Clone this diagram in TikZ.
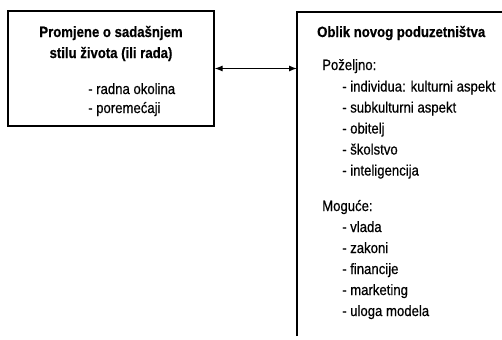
\documentclass[tikz,border=0pt]{standalone}
\usepackage{fontspec}
\setmainfont{Liberation Sans}[FakeStretch=0.88, UprightFeatures={FakeBold=0.5}, BoldFeatures={FakeBold=0.6}]
\usetikzlibrary{arrows.meta}
\begin{document}
\begin{tikzpicture}[x=1bp,y=-1bp,
  txt/.style={inner sep=0pt, font=\fontsize{15}{18}\selectfont},
  ttl/.style={inner sep=0pt, font=\fontsize{15}{18}\selectfont\bfseries},
  box/.style={draw, line width=1.2bp},
  conn/.style={line width=1.1bp, {Latex[length=8bp,width=6bp]}-{Latex[length=8bp,width=6bp]}}]
\useasboundingbox (0,0) rectangle (502,339);
% left box
\node[box, minimum width=206bp, minimum height=115bp, inner sep=0pt] (L) at (111,68.5) {};
\node[ttl, anchor=base] (l1) at (111,37) {Promjene o sadašnjem};
\node[ttl, anchor=base] (l2) at (111,58) {stilu života (ili rada)};
\node[txt, anchor=base west] (l3) at (88,94) {- radna okolina};
\node[txt, anchor=base west] (l4) at (88,113) {- poremećaji};
% right box (open)
\coordinate (RT) at (297,12);
\coordinate (RB) at (297,336);
\coordinate (RR) at (502,12);
\draw[box] (RB) -- (RT) -- (RR);
\draw[conn] (L.east) -- (RT |- L.east);
% right texts
\node[ttl, anchor=base west] (r0) at (317,37) {Oblik novog poduzetništva};
\node[txt, anchor=base west] (p0) at (322,70) {Poželjno:};
\node[txt, anchor=base west] (p1) at (342,91.5) {- individua: kulturni aspekt};
\node[txt, anchor=base west] (p2) at (342,112.5) {- subkulturni aspekt};
\node[txt, anchor=base west] (p3) at (342,133.5) {- obitelj};
\node[txt, anchor=base west] (p4) at (342,154.5) {- školstvo};
\node[txt, anchor=base west] (p5) at (342,175.5) {- inteligencija};
\node[txt, anchor=base west] (m0) at (322,211) {Moguće:};
\node[txt, anchor=base west] (m1) at (342,232) {- vlada};
\node[txt, anchor=base west] (m2) at (342,253) {- zakoni};
\node[txt, anchor=base west] (m3) at (342,274) {- financije};
\node[txt, anchor=base west] (m4) at (342,295) {- marketing};
\node[txt, anchor=base west] (m5) at (342,316) {- uloga modela};
\end{tikzpicture}
\end{document}
